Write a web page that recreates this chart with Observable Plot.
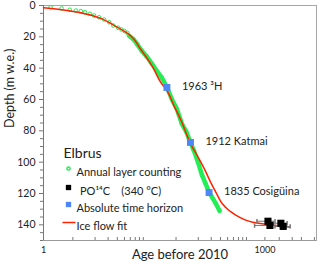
<!DOCTYPE html>
<html><head><meta charset="utf-8">
<script src="https://cdn.jsdelivr.net/npm/d3@7"></script>
<script src="https://cdn.jsdelivr.net/npm/@observablehq/plot@0.6"></script>
<style>body{margin:0;background:#fff} svg{display:block}</style>
</head><body><div id="chart"></div>
<script>
// Annual layer counting (age before 2010, depth m w.e.)
const layerAge = [1.25,1.76,2.27,2.74,3.2,3.65,4.27,4.84,5.67,6.64,7.77,8.81,10.3,11.4,12.5,13.7,14.6,16.5,18.8,21.3,25,29.3,34,40,47,55,64,75,86,98,109,124,141,158,176,196,216,243];
const layerDepth = [1.1,1.9,2.7,3.2,3.6,4.3,5.3,6.4,7.5,8.9,10.7,12.8,14.2,15.3,16.3,17.5,19.5,21.5,25,28.7,32.5,37,41.5,46,52,60,66,75.5,80.5,87.5,92.6,100,108.5,114,119.4,123,126.4,131];
// Ice flow fit
const fitAge = [1,2.1,4.9,9.1,14,21.3,30,40,45,60,75,88,100,114,150,194,227,265,330,450,685,1150,2180];
const fitDepth = [1.5,3.2,6.8,12.8,18,28.7,39,50,53,65,74.5,83,89,93.6,104,115,121,126.6,131,135.1,138.3,140,141.5];
// Absolute time horizons
const horizonLabel = ["1963 ³H","1912 Katmai","1835 Cosigüina"];
const horizonAge = [47,98,175];
const horizonDepth = [52.3,87.4,119.4];
// PO14C dates
const c14Age = [1100,1170,1645,1770];
const c14Depth = [137.7,140.4,139,141];
const c14Lo = [780,725,1290,1370];
const c14Hi = [1370,1600,2000,2200];
// ticks
const yTicks = [0,20,40,60,80,100,120,140];
const yMinor = [5,10,15,25,30,35,45,50,55,65,70,75,85,90,95,105,110,115,125,130,135,145,150];
const xTickLabels = [1,1000];
const xMinor = [2.5,5,7.5,10,12.5,15,17.5,20,22.5,62.5,125,187.5,250,312.5,375,437.5,500,562.5,1000,1562.5,2343.75,3125,4687.5];
// legend
const legendTitle = "Elbrus";
const legendLabels = ["Annual layer counting","PO¹⁴C\u00a0\u00a0\u00a0 (340 °C)","Absolute time horizon","Ice flow fit"];

const GREEN = "#22ee55", BLUE = "#4f86f7", RED = "#ff2200";

const layer = layerAge.map((a,i)=>({age:a, depth:layerDepth[i]}));
const fit = fitAge.map((a,i)=>({age:a, depth:fitDepth[i]}));
const horizons = horizonAge.map((a,i)=>({age:a, depth:horizonDepth[i], label:horizonLabel[i]}));
const c14 = c14Age.map((a,i)=>({age:a, depth:c14Depth[i], lo:c14Lo[i], hi:c14Hi[i]}));

const capSymbol = {draw(ctx, size){ const h = Math.sqrt(size)/2; ctx.moveTo(0,-h); ctx.lineTo(0,h); }};
const dashSymbol = {draw(ctx){ ctx.moveTo(-6.5,0); ctx.lineTo(6.5,0); }};

const font = "Lato, 'Open Sans', sans-serif";
const plot = Plot.plot({
  width: 320, height: 269,
  marginLeft: 43, marginRight: 4, marginTop: 5, marginBottom: 29,
  style: {fontFamily: font, background: "#fff", color: "#222"},
  x: {type: "log", domain: [1, 5000]},
  y: {domain: [0, 150], reverse: true},
  marks: [
    Plot.frame({stroke: "#a6a6a6"}),
    Plot.axisY(yTicks, {tickSize: 4, tickPadding: 4, fontSize: 10.5, label: null, stroke: "#777"}),
    Plot.axisY(yMinor, {tickSize: 3, text: null, label: null, stroke: "#777"}),
    Plot.axisX(xTickLabels, {tickSize: 0, tickPadding: 6, fontSize: 9, label: null, tickFormat: d => String(d)}),
    Plot.axisX(xMinor, {tickSize: -3, text: null, label: null, stroke: "#777"}),
    Plot.ruleX([1], {stroke: "#777"}),
    Plot.ruleY([150], {stroke: "#999"}),
    Plot.text(["Age before 2010"], {frameAnchor: "bottom", dy: 18, fontSize: 13}),
    Plot.text(["Depth (m w.e.)"], {frameAnchor: "left", dx: -34, dy: 5, rotate: -90, fontSize: 12.5}),
    // annual layers
    Plot.line(layer.filter(d => d.age >= 14), {x: "age", y: "depth", stroke: GREEN, strokeWidth: 4.5, curve: "linear"}),
    Plot.dot(layer, {x: "age", y: "depth", r: 1.8, stroke: GREEN, strokeWidth: 1, fill: "none"}),
    // ice flow fit
    Plot.line(fit, {x: "age", y: "depth", stroke: RED, strokeWidth: 1.5, curve: "monotone-y"}),
    // PO14C
    Plot.ruleY(c14, {y: "depth", x1: "lo", x2: "hi", stroke: "#777", strokeWidth: 1}),
    Plot.dot(c14, {x: "lo", y: "depth", symbol: capSymbol, r: 2.5, stroke: "#777"}),
    Plot.dot(c14, {x: "hi", y: "depth", symbol: capSymbol, r: 2.5, stroke: "#777"}),
    Plot.dot(c14, {x: "age", y: "depth", symbol: "square", r: 4, fill: "#000"}),
    // horizons
    Plot.dot(horizons, {x: "age", y: "depth", symbol: "square", r: 3.9, fill: BLUE}),
    Plot.text(horizons, {x: "age", y: "depth", text: "label", textAnchor: "start", dx: 15, dy: -1, fontSize: 11, fill: "#222"}),
    // legend
    Plot.text([legendTitle], {frameAnchor: "top-left", dx: 20, dy: 143, textAnchor: "start", fontSize: 14, fill: "#222"}),
    Plot.dot([0], {frameAnchor: "top-left", dx: 25, dy: 163, r: 1.6, stroke: GREEN, fill: "none"}),
    Plot.dot([0], {frameAnchor: "top-left", dx: 25, dy: 182, symbol: "square", r: 3, fill: "#000"}),
    Plot.dot([0], {frameAnchor: "top-left", dx: 25, dy: 199, symbol: "square", r: 3, fill: BLUE}),
    Plot.dot([0], {frameAnchor: "top-left", dx: 25.5, dy: 217, symbol: dashSymbol, stroke: RED, strokeWidth: 1.5}),
    Plot.text([legendLabels[0]], {frameAnchor: "top-left", dx: 33, dy: 163, textAnchor: "start", fontSize: 11, fill: "#222"}),
    Plot.text([legendLabels[1]], {frameAnchor: "top-left", dx: 36.5, dy: 182, textAnchor: "start", fontSize: 11, fill: "#222"}),
    Plot.text([legendLabels[2]], {frameAnchor: "top-left", dx: 33, dy: 199, textAnchor: "start", fontSize: 11, fill: "#222"}),
    Plot.text([legendLabels[3]], {frameAnchor: "top-left", dx: 33, dy: 217, textAnchor: "start", fontSize: 11, fill: "#222"})
  ]
});
document.getElementById("chart").appendChild(plot);
</script>
</body></html>
